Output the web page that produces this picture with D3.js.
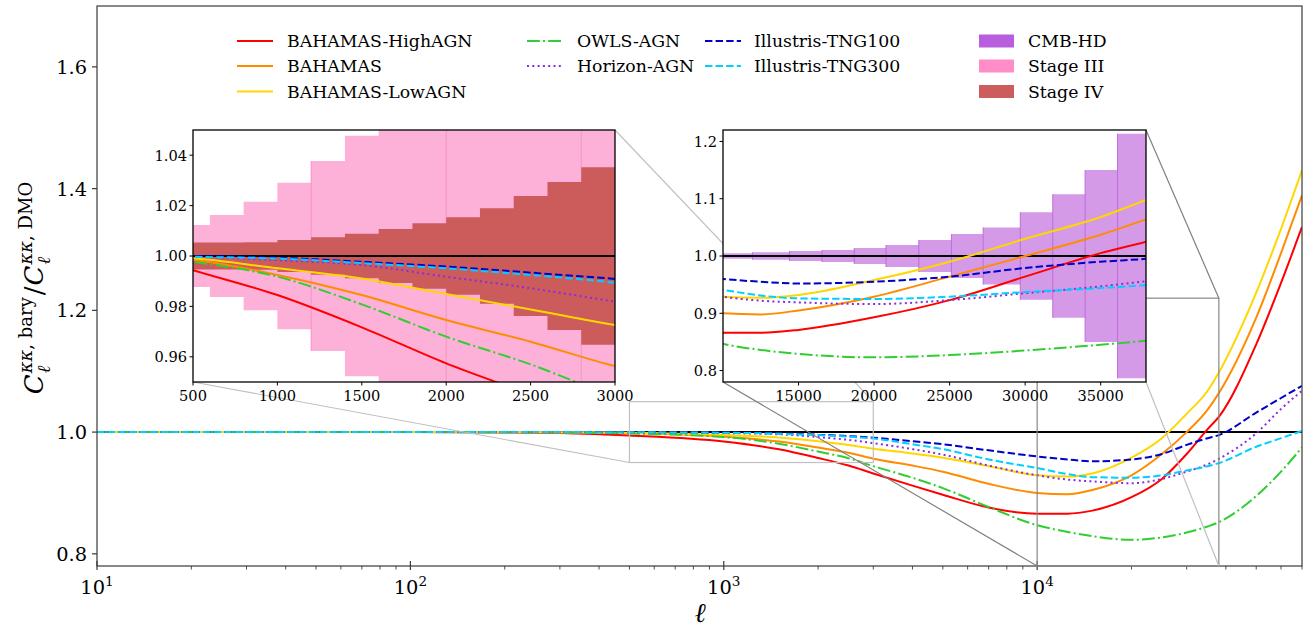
<!DOCTYPE html>
<html>
<head>
<meta charset="utf-8">
<script src="https://cdn.jsdelivr.net/npm/d3@7"></script>
<style>
  body { margin: 0; background: #fff; }
  text { font-family: "DejaVu Serif", serif; fill: #000; }
</style>
</head>
<body>
<div id="chart"></div>
<script>
var ell = [10, 100, 200, 300, 500, 1000, 1500, 2000, 2500, 3000, 4000, 5000, 7000, 10000, 12500, 15000, 20000, 25000, 30000, 35000, 38000, 50000, 60000, 70000];

var bahamas_high = [1, 1, 0.9995, 0.9985, 0.9944, 0.9845, 0.9717, 0.9574, 0.945, 0.932, 0.912, 0.897, 0.876, 0.866, 0.866, 0.871, 0.893, 0.923, 0.964, 1.005, 1.025, 1.144, 1.245, 1.337];
var bahamas = [1, 1, 0.9998, 0.9995, 0.9984, 0.9925, 0.9845, 0.9746, 0.966, 0.9563, 0.945, 0.935, 0.915, 0.900, 0.898, 0.905, 0.929, 0.964, 1.000, 1.037, 1.064, 1.188, 1.294, 1.389];
var bahamas_low = [1, 1, 1, 0.9998, 0.9991, 0.9951, 0.9911, 0.9849, 0.9788, 0.9726, 0.965, 0.958, 0.944, 0.929, 0.927, 0.932, 0.958, 0.990, 1.030, 1.068, 1.098, 1.229, 1.334, 1.430];
var owls = [1, 1, 0.9998, 0.9995, 0.9977, 0.9918, 0.9808, 0.968, 0.957, 0.944, 0.925, 0.908, 0.877, 0.847, 0.836, 0.829, 0.823, 0.827, 0.835, 0.845, 0.852, 0.895, 0.935, 0.975];
var horizon = [1, 1, 1, 1, 0.9997, 0.9984, 0.9964, 0.9918, 0.9872, 0.9819, 0.972, 0.963, 0.945, 0.929, 0.922, 0.919, 0.916, 0.923, 0.935, 0.947, 0.956, 0.998, 1.038, 1.068];
var tng100 = [1, 1, 1, 1, 1, 0.9993, 0.9977, 0.9958, 0.9934, 0.9909, 0.985, 0.980, 0.970, 0.960, 0.955, 0.952, 0.955, 0.964, 0.979, 0.990, 0.995, 1.032, 1.056, 1.076];
var tng300 = [1, 1, 1, 1, 0.9997, 0.999, 0.9972, 0.9951, 0.9925, 0.9894, 0.980, 0.972, 0.955, 0.941, 0.931, 0.926, 0.925, 0.929, 0.937, 0.944, 0.949, 0.976, 0.990, 1.002];

// error bars (half widths around 1) of the surveys
var stage_edges = [400, 600, 800, 1000, 1200, 1400, 1600, 1800, 2000, 2200, 2400, 2600, 2800, 3000];
var stage3_err = [0.0123, 0.0163, 0.0215, 0.0291, 0.0377, 0.0477, 0.058, 0.068, 0.078, 0.088, 0.100, 0.110, 0.125];
var stage4_err = [0.0054, 0.0054, 0.0055, 0.0063, 0.0074, 0.0088, 0.0107, 0.0130, 0.0154, 0.0189, 0.0238, 0.0294, 0.0352];
var stage3_seams = [1200, 2000, 2800];
var hd_edges = [9800, 11950, 14400, 16550, 18690, 20790, 22960, 25120, 27220, 29680, 31830, 33970, 36120, 38300];
var hd_err = [0.0046, 0.0064, 0.0087, 0.0105, 0.0139, 0.0192, 0.0279, 0.0383, 0.0499, 0.0766, 0.108, 0.150, 0.2136];

var main_yticks = [0.8, 1.0, 1.2, 1.4, 1.6];
var main_xticks = [10, 100, 1000, 10000];
var left_xticks = [500, 1000, 1500, 2000, 2500, 3000];
var left_yticks = [0.96, 0.98, 1.00, 1.02, 1.04];
var right_xticks = [15000, 20000, 25000, 30000, 35000];
var right_yticks = [0.8, 0.9, 1.0, 1.1, 1.2];

var series = [
    {name: "BAHAMAS-HighAGN", values: bahamas_high, color: "#ff0000", dash: null},
    {name: "BAHAMAS", values: bahamas, color: "#ff8c00", dash: null},
    {name: "BAHAMAS-LowAGN", values: bahamas_low, color: "#ffd700", dash: null},
    {name: "OWLS-AGN", values: owls, color: "#32cd32", dash: "12.8,3.2,2,3.2"},
    {name: "Horizon-AGN", values: horizon, color: "#8a2be2", dash: "2,3.3"},
    {name: "Illustris-TNG100", values: tng100, color: "#0000cd", dash: "7.4,3.2"},
    {name: "Illustris-TNG300", values: tng300, color: "#00cfff", dash: "7.4,3.2"}
];
var bands = [
    {name: "CMB-HD", color: "#b95ddf"},
    {name: "Stage III", color: "#ff8ec8"},
    {name: "Stage IV", color: "#cd5c5c"}
];

var W = 1304, H = 628;
var svg = d3.select("#chart").append("svg")
    .attr("width", W)
    .attr("height", H);

var defs = svg.append("defs");
function clip(id, x0, y0, x1, y1) {
    defs.append("clipPath").attr("id", id).append("rect")
        .attr("x", x0).attr("y", y0).attr("width", x1 - x0).attr("height", y1 - y0);
    return "url(#" + id + ")";
}

// Main axes
var x = d3.scaleLog().domain([10, 70000]).range([97, 1302]);
var y = d3.scaleLinear().domain([0.78, 1.70]).range([566, 6]);

var main = svg.append("g");
var main_clip = clip("clip_main", 97, 6, 1302, 566);

function draw_curves(g, sx, sy, clip_url) {
    var cg = g.append("g").attr("clip-path", clip_url);
    cg.append("line")
        .attr("x1", sx.range()[0]).attr("x2", sx.range()[1])
        .attr("y1", sy(1)).attr("y2", sy(1))
        .attr("stroke", "#000").attr("stroke-width", 2);
    series.forEach(function(s) {
        var line = d3.line()
            .x(function(d, i) { return sx(ell[i]); })
            .y(function(d) { return sy(d); })
            .curve(d3.curveMonotoneX);
        cg.append("path")
            .attr("d", line(s.values))
            .attr("fill", "none")
            .attr("stroke", s.color)
            .attr("stroke-width", 2)
            .attr("stroke-dasharray", s.dash);
    });
}

draw_curves(main, x, y, main_clip);

// frame + ticks of the main axes
main.append("rect")
    .attr("x", 97).attr("y", 6).attr("width", 1205).attr("height", 560)
    .attr("fill", "none").attr("stroke", "#3a3a3a").attr("stroke-width", 1.2);

main_yticks.forEach(function(t) {
    main.append("line").attr("x1", 92).attr("x2", 97).attr("y1", y(t)).attr("y2", y(t))
        .attr("stroke", "#3a3a3a").attr("stroke-width", 1.2);
    main.append("text").attr("x", 87).attr("y", y(t) + 7)
        .attr("text-anchor", "end").style("font-size", "19.4px")
        .text(t.toFixed(1));
});

var minor = [];
[10, 100, 1000, 10000].forEach(function(d) {
    for (var k = 2; k < 10; k++) {
        if (d * k <= 70000) minor.push(d * k);
    }
});
minor.forEach(function(t) {
    main.append("line").attr("x1", x(t)).attr("x2", x(t)).attr("y1", 566).attr("y2", 569.5)
        .attr("stroke", "#3a3a3a").attr("stroke-width", 0.9);
});
main_xticks.forEach(function(t) {
    main.append("line").attr("x1", x(t)).attr("x2", x(t)).attr("y1", 561).attr("y2", 570)
        .attr("stroke", "#3a3a3a").attr("stroke-width", 1.2);
    var lab = main.append("text").attr("x", x(t)).attr("y", 594)
        .attr("text-anchor", "middle").style("font-size", "19.4px");
    lab.append("tspan").text("10");
    lab.append("tspan").attr("dy", -8).style("font-size", "13.6px")
        .text(Math.round(Math.log10(t)));
});

// axis labels
main.append("text").attr("x", 700).attr("y", 622)
    .attr("text-anchor", "middle")
    .style("font-size", "27px").style("font-style", "italic")
    .text("\u2113");

var ylab = main.append("g").attr("transform", "translate(43,287) rotate(-90)");
var yl = ylab.append("g");
var cx = 0;
function piece(size, italic, px, py) {
    return yl.append("text").attr("x", px).attr("y", py)
        .style("font-size", size + "px")
        .style("font-style", italic ? "italic" : "normal");
}
function frac_part(sup_rest) {
    var c = piece(26, true, cx, 0).text("C");
    var w = c.node().getComputedTextLength();
    var sup = piece(18, false, cx + w + 1, -11);
    sup.append("tspan").style("font-style", "italic").text("\u03ba\u03ba");
    sup.append("tspan").text(", " + sup_rest);
    var sub = piece(18, true, cx + w + 1, 7).text("\u2113");
    var ws = Math.max(sup.node().getComputedTextLength(), sub.node().getComputedTextLength());
    cx = cx + w + 1 + ws + 2;
}
frac_part("bary");
var slash = piece(26, false, cx, 0).text("/");
cx += slash.node().getComputedTextLength() + 1;
frac_part("DMO");
yl.attr("transform", "translate(" + (-cx / 2) + ",0)");

// zoom indicators on the main axes
var ind = svg.append("g").attr("fill", "none");
var left_box = {x0: 193, x1: 615, y0: 130, y1: 382};
var right_box = {x0: 723, x1: 1146, y0: 130, y1: 382};

ind.append("rect")
    .attr("x", x(500)).attr("y", y(1.05))
    .attr("width", x(3000) - x(500)).attr("height", y(0.95) - y(1.05))
    .attr("stroke", "#c0c0c0").attr("stroke-width", 1.2);
ind.append("line").attr("x1", left_box.x0).attr("y1", left_box.y1)
    .attr("x2", x(500)).attr("y2", y(0.95)).attr("stroke", "#c0c0c0").attr("stroke-width", 1.2);
ind.append("line").attr("x1", left_box.x1).attr("y1", left_box.y0)
    .attr("x2", x(3000)).attr("y2", y(1.05)).attr("stroke", "#c0c0c0").attr("stroke-width", 1.2);

ind.append("rect")
    .attr("x", x(10000)).attr("y", y(1.22))
    .attr("width", x(38000) - x(10000)).attr("height", y(0.78) - y(1.22))
    .attr("stroke", "#888").attr("stroke-width", 1.2);
ind.append("line").attr("x1", right_box.x0).attr("y1", right_box.y1)
    .attr("x2", x(10000)).attr("y2", y(0.78)).attr("stroke", "#808080").attr("stroke-width", 1.2);
ind.append("line").attr("x1", right_box.x1).attr("y1", right_box.y0)
    .attr("x2", x(38000)).attr("y2", y(1.22)).attr("stroke", "#808080").attr("stroke-width", 1.2);
ind.append("line").attr("x1", right_box.x1).attr("y1", right_box.y1)
    .attr("x2", x(38000)).attr("y2", y(0.78)).attr("stroke", "#c0c0c0").attr("stroke-width", 1.2);

// Insets
function inset(box, xdom, ydom, xticks, yticks, yfmt, id) {
    var sx = d3.scaleLinear().domain(xdom).range([box.x0, box.x1]);
    var sy = d3.scaleLinear().domain(ydom).range([box.y1, box.y0]);
    var g = svg.append("g");
    g.append("rect").attr("x", box.x0).attr("y", box.y0)
        .attr("width", box.x1 - box.x0).attr("height", box.y1 - box.y0)
        .attr("fill", "#fff");
    var cl = clip(id, box.x0, box.y0, box.x1, box.y1);
    var bg = g.append("g").attr("clip-path", cl);
    return {g: g, bg: bg, sx: sx, sy: sy,
        finish: function() {
            draw_curves(g, sx, sy, cl);
            g.append("rect").attr("x", box.x0).attr("y", box.y0)
                .attr("width", box.x1 - box.x0).attr("height", box.y1 - box.y0)
                .attr("fill", "none").attr("stroke", "#000").attr("stroke-width", 1.3);
            xticks.forEach(function(t) {
                g.append("line").attr("x1", sx(t)).attr("x2", sx(t))
                    .attr("y1", box.y1).attr("y2", box.y1 + 3.5)
                    .attr("stroke", "#000").attr("stroke-width", 1);
                g.append("text").attr("x", sx(t)).attr("y", box.y1 + 19)
                    .attr("text-anchor", "middle").style("font-size", "14.6px")
                    .text(t);
            });
            yticks.forEach(function(t) {
                g.append("line").attr("x1", box.x0 - 3.5).attr("x2", box.x0)
                    .attr("y1", sy(t)).attr("y2", sy(t))
                    .attr("stroke", "#000").attr("stroke-width", 1);
                g.append("text").attr("x", box.x0 - 6).attr("y", sy(t) + 5.3)
                    .attr("text-anchor", "end").style("font-size", "14.6px")
                    .text(t.toFixed(yfmt));
            });
        }};
}

// step band around 1 built from bin edges and half widths
function band(P, edges, errs, color) {
    var pts = edges.map(function(e, i) {
        return {l: e, err: errs[Math.min(i, errs.length - 1)]};
    });
    var area = d3.area()
        .x(function(d) { return P.sx(d.l); })
        .y0(function(d) { return P.sy(1 - d.err); })
        .y1(function(d) { return P.sy(1 + d.err); })
        .curve(d3.curveStepAfter);
    P.bg.append("path").attr("d", area(pts)).attr("fill", color);
}

// left inset: Stage III and Stage IV
var L = inset(left_box, [500, 3000], [0.95, 1.05], left_xticks, left_yticks, 2, "clip_left");
band(L, stage_edges, stage3_err, "#fdb1d9");
stage3_seams.forEach(function(s) {
    var e = stage3_err[stage_edges.indexOf(s)];
    L.bg.append("line").attr("x1", L.sx(s)).attr("x2", L.sx(s))
        .attr("y1", L.sy(1 + e)).attr("y2", L.sy(1 - e))
        .attr("stroke", "#f592c8").attr("stroke-width", 1);
});
band(L, stage_edges, stage4_err, "#cc5c5c");
L.finish();

// right inset: CMB-HD
var R = inset(right_box, [10000, 38000], [0.78, 1.22], right_xticks, right_yticks, 1, "clip_right");
band(R, hd_edges, hd_err, "#d49ae8");
hd_err.forEach(function(e, i) {
    if (i == 0) return;
    var m = Math.max(e, hd_err[i - 1]);
    R.bg.append("line").attr("x1", R.sx(hd_edges[i])).attr("x2", R.sx(hd_edges[i]))
        .attr("y1", R.sy(1 + m)).attr("y2", R.sy(1 - m))
        .attr("stroke", "#bb6ddb").attr("stroke-width", 1);
});
R.finish();

// Legend
var leg = svg.append("g");
var cols = [{hx: 237, tx: 287}, {hx: 527, tx: 577}, {hx: 705, tx: 754}];
var rows = [41, 66, 91.5];
series.forEach(function(s, i) {
    var c = i < 3 ? 0 : (i < 5 ? 1 : 2);
    var r = i < 3 ? i : (i < 5 ? i - 3 : i - 5);
    leg.append("line")
        .attr("x1", cols[c].hx).attr("x2", cols[c].hx + 36)
        .attr("y1", rows[r]).attr("y2", rows[r])
        .attr("stroke", s.color).attr("stroke-width", 2)
        .attr("stroke-dasharray", s.dash);
    leg.append("text").attr("x", cols[c].tx).attr("y", rows[r] + 6.3)
        .style("font-size", "17.3px").text(s.name);
});
bands.forEach(function(b, i) {
    leg.append("rect").attr("x", 979).attr("y", rows[i] - 6.5)
        .attr("width", 35).attr("height", 13).attr("fill", b.color);
    leg.append("text").attr("x", 1028).attr("y", rows[i] + 6.3)
        .style("font-size", "17.3px").text(b.name);
});
</script>
</body>
</html>
